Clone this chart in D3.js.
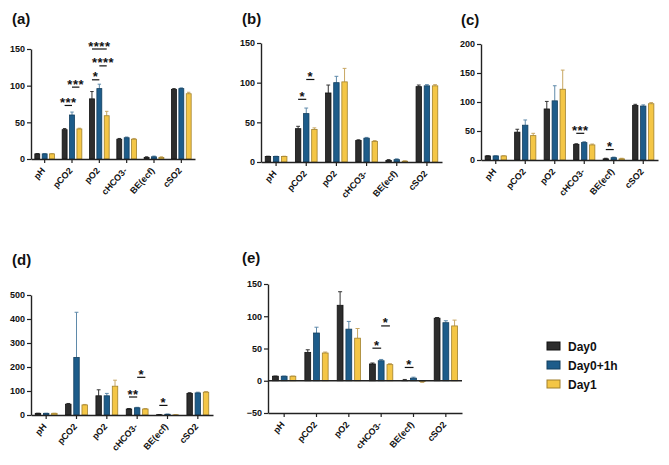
<!DOCTYPE html>
<html>
<head>
<meta charset="utf-8">
<style>
body { margin: 0; background: #fff; }
svg { display: block; font-family: "Liberation Sans", Arial, sans-serif; font-weight: bold; }
</style>
<script src="https://d3js.org/d3.v7.min.js"></script>
</head>
<body>
<div id="chart"></div>
<script>
// categories and groups
var categories = ["pH", "pCO2", "pO2", "cHCO3-", "BE(ecf)", "cSO2"];
var groups = ["Day0", "Day0+1h", "Day1"];

// one row per group (Day0, Day0+1h, Day1)
var meanA = [[7, 40, 82, 27, 2, 95], [7, 60, 96, 29, 3, 96], [7, 41, 59, 27, 2, 89]];
var sdA   = [[0.3, 1.5, 10, 1, 1, 1], [0.3, 4, 6, 1, 1, 1], [0.3, 1, 6, 1, 1, 2]];
var meanB = [[7, 42, 87, 27, 2, 95], [7, 61, 100, 30, 3, 96], [7, 41, 101, 26, 1, 96]];
var sdB   = [[0.3, 3, 10, 1, 1, 2], [0.3, 7, 8, 1, 1, 1.5], [0.3, 2, 17, 1, 0.5, 1.5]];
var meanC = [[7, 48, 88, 27, 2, 94], [7, 60, 102, 30, 4, 93], [7, 42, 122, 26, 2, 97]];
var sdC   = [[0.3, 5, 13, 1, 1, 2], [0.3, 9, 26, 1.5, 1, 2], [0.3, 4, 33, 1.5, 1, 2]];
var meanD = [[7, 45, 80, 25, 1, 90], [7, 240, 80, 30, 3, 92], [7, 42, 120, 25, 0.5, 95]];
var sdD   = [[0.3, 3, 25, 2, 1, 3], [0.3, 188, 10, 2, 1, 3], [0.3, 2, 25, 2, 1, 3]];
var meanE = [[7, 44, 117, 26, 0.5, 97], [7, 74, 80, 31, 4, 90], [7, 43, 66, 25, -1, 85]];
var sdE   = [[0.3, 4, 21, 1.5, 1.5, 1], [0.3, 9, 12, 2, 1.5, 3], [0.3, 1.5, 15, 1.5, 1.5, 9]];

// significance: [category, from group, to group, value of line, label]
var starsA = [["pCO2", 0, 1, 73, "***"], ["pCO2", 1, 2, 98, "***"], ["pO2", 0, 1, 108, "*"],
              ["pO2", 1, 2, 127, "****"], ["pO2", 0, 2, 150, "****"]];
var starsB = [["pCO2", 0, 1, 79, "*"], ["pCO2", 1, 2, 104, "*"]];
var starsC = [["cHCO3-", 0, 1, 46, "***"], ["BE(ecf)", 0, 1, 18, "*"]];
var starsD = [["cHCO3-", 0, 1, 75, "**"], ["cHCO3-", 1, 2, 157, "*"], ["BE(ecf)", 0, 1, 40, "*"]];
var starsE = [["cHCO3-", 0, 1, 50.5, "*"], ["cHCO3-", 1, 2, 85, "*"], ["BE(ecf)", 0, 1, 20.6, "*"]];

var yTicksA = [0, 50, 100, 150];
var yTicksC = [0, 50, 100, 150, 200];
var yTicksD = [0, 100, 200, 300, 400, 500];
var yTicksE = [-50, 0, 50, 100, 150];

var fills = ["#2d2d2d", "#1d5c8a", "#f4c646"];
var edges = ["#111111", "#123e5e", "#a1802c"];
var errCol = ["#333333", "#5f8aaa", "#c8a763"];

var width = 669, height = 465;
var svg = d3.select("#chart").append("svg")
  .attr("width", width).attr("height", height);

// layout: pixel box of each panel
var panels = [
  {label: "(a)", lx: 12, ly: 24, x0: 31, x1: 195, yTop: 49, yBot: 159, dom: [0, 150], ticks: yTicksA, mean: meanA, sd: sdA, stars: starsA},
  {label: "(b)", lx: 242, ly: 24, x0: 261, x1: 442, yTop: 43, yBot: 162, dom: [0, 150], ticks: yTicksA, mean: meanB, sd: sdB, stars: starsB},
  {label: "(c)", lx: 461, ly: 25, x0: 481, x1: 658, yTop: 44, yBot: 160, dom: [0, 200], ticks: yTicksC, mean: meanC, sd: sdC, stars: starsC},
  {label: "(d)", lx: 12, ly: 265, x0: 31, x1: 213, yTop: 295, yBot: 415, dom: [0, 500], ticks: yTicksD, mean: meanD, sd: sdD, stars: starsD},
  {label: "(e)", lx: 242, ly: 263, x0: 268, x1: 462, yTop: 284, yBot: 413, dom: [-50, 150], ticks: yTicksE, mean: meanE, sd: sdE, stars: starsE}
];

panels.forEach(function(p) {
  var g = svg.append("g");
  var x = d3.scaleBand().domain(categories).range([p.x0, p.x1]);
  var y = d3.scaleLinear().domain(p.dom).range([p.yBot, p.yTop]);
  var bw = x.bandwidth();
  var off = bw * 0.27, barW = bw * 0.18;
  var cx = function(cat, gi) { return x(cat) + bw / 2 + (gi - 1) * off; };

  g.append("text").attr("x", p.lx).attr("y", p.ly)
    .style("font-size", "15px").attr("fill", "#111").text(p.label);

  // bars
  groups.forEach(function(grp, gi) {
    var rows = categories.map(function(c, i) { return {cat: c, v: p.mean[gi][i], e: p.sd[gi][i]}; });
    g.selectAll(".err" + gi).data(rows).enter().append("path")
      .attr("d", function(d) {
        var xc = cx(d.cat, gi), dir = d.v < 0 ? -1 : 1;
        var yt = y(d.v + dir * d.e);
        return "M" + xc + "," + y(d.v) + "V" + yt + "M" + (xc - barW * 0.35) + "," + yt + "H" + (xc + barW * 0.35);
      })
      .attr("stroke", errCol[gi]).attr("stroke-width", 1).attr("fill", "none");
    g.selectAll(".bar" + gi).data(rows).enter().append("rect")
      .attr("x", function(d) { return cx(d.cat, gi) - barW / 2; })
      .attr("y", function(d) { return y(Math.max(0, d.v)); })
      .attr("width", barW)
      .attr("height", function(d) { return Math.abs(y(d.v) - y(0)); })
      .attr("fill", fills[gi]).attr("stroke", edges[gi]).attr("stroke-width", 0.8);
  });

  // axes
  var ya = g.append("g").attr("transform", "translate(" + p.x0 + ",0)")
    .call(d3.axisLeft(y).tickValues(p.ticks).tickSize(4).tickSizeOuter(0).tickPadding(2));
  var xa = g.append("g").attr("transform", "translate(0," + p.yBot + ")")
    .call(d3.axisBottom(x).tickSize(4).tickSizeOuter(0).tickPadding(2));
  [ya, xa].forEach(function(a) {
    a.select(".domain").attr("stroke", "#222").attr("stroke-width", 1.4);
    a.selectAll(".tick line").attr("stroke", "#222").attr("stroke-width", 1.2);
    a.selectAll("text").attr("fill", "#111").style("font-size", "9px")
      .style("font-family", "Liberation Sans, Arial, sans-serif").style("font-weight", "bold");
  });
  xa.selectAll(".tick text")
    .attr("text-anchor", "end")
    .attr("x", 0).attr("y", 0).attr("dy", 0)
    .attr("transform", "translate(1,12) rotate(-48)");

  if (p.dom[0] < 0) {
    g.append("line").attr("x1", p.x0).attr("x2", p.x1)
      .attr("y1", y(0)).attr("y2", y(0)).attr("stroke", "#222").attr("stroke-width", 1.4);
  }

  // significance marks
  p.stars.forEach(function(s) {
    var xa1 = cx(s[0], s[1]), xa2 = cx(s[0], s[2]), yy = y(s[3]);
    g.append("line").attr("x1", xa1).attr("x2", xa2).attr("y1", yy).attr("y2", yy)
      .attr("stroke", "#111").attr("stroke-width", 1.2);
    g.append("text").attr("x", (xa1 + xa2) / 2).attr("y", yy + 1.5)
      .attr("text-anchor", "middle").style("font-size", "13px").style("letter-spacing", "0.5px")
      .attr("fill", "#111").text(s[4]);
  });
});

// legend
var leg = svg.append("g");
groups.forEach(function(grp, i) {
  var yy = 342 + i * 19;
  leg.append("rect").attr("x", 547).attr("y", yy).attr("width", 13).attr("height", 8)
    .attr("fill", fills[i]).attr("stroke", edges[i]).attr("stroke-width", 1);
  leg.append("text").attr("x", 568).attr("y", yy + 8.5)
    .style("font-size", "12px").attr("fill", "#111").text(grp);
});
</script>
</body>
</html>
